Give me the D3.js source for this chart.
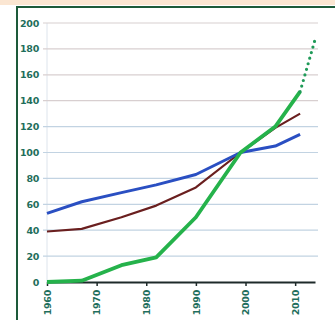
<!DOCTYPE html>
<html><head><meta charset="utf-8">
<script src="https://cdn.jsdelivr.net/npm/d3@7/dist/d3.min.js"></script>
<style>body{margin:0;background:#fff}svg{display:block}</style>
</head><body>
<script>
const years = [1960, 1967, 1975, 1982, 1990, 1999, 2006, 2011];
const blueSeries = [53, 62, 69, 75, 83, 100, 105, 114];
const brownSeries = [39, 41, 50, 59, 73, 100, 119, 130];
const greenSeries = [0, 1, 13, 19, 50, 100, 120, 147];
const projYears = [2011, 2014];
const greenProjection = [147, 187];
const yTicks = [0, 20, 40, 60, 80, 100, 120, 140, 160, 180, 200];
const xTicks = [1960, 1970, 1980, 1990, 2000, 2010];

const W = 335, H = 320;
const svg = d3.select("body").append("svg").attr("width", W).attr("height", H);

// frame
svg.append("rect").attr("x", 0).attr("y", 0).attr("width", W).attr("height", 5).attr("fill", "#fbe6d2");
svg.append("line").attr("x1", 16).attr("x2", W).attr("y1", 7).attr("y2", 7).attr("stroke", "#1d5a3a").attr("stroke-width", 2);
svg.append("line").attr("x1", 17).attr("x2", 17).attr("y1", 6).attr("y2", H).attr("stroke", "#1d5a3a").attr("stroke-width", 2);

const x = d3.scaleLinear().domain([1960, 2014]).range([47, 315]);
const y = d3.scaleLinear().domain([0, 200]).range([282, 23]);

// plot left faint line
svg.append("line").attr("x1", 47).attr("x2", 47).attr("y1", 23).attr("y2", 282).attr("stroke", "#dde4ec").attr("stroke-width", 1);

// gridlines
svg.append("g").selectAll("line").data(yTicks.filter(d => d > 0)).join("line")
  .attr("x1", 43).attr("x2", 318)
  .attr("y1", d => y(d)).attr("y2", d => y(d))
  .attr("stroke", d => d >= 140 ? "#d8cfd0" : "#c2d3e2").attr("stroke-width", 1.2);

// y labels
const yAxis = d3.axisLeft(y).tickValues(yTicks).tickSize(0).tickPadding(0);
const gy = svg.append("g").attr("transform", "translate(39,0)").call(yAxis);
gy.select(".domain").remove();
gy.selectAll("text").attr("fill", "#1f6e5c").attr("font-family", "DejaVu Sans, sans-serif")
  .attr("font-size", 9.5).attr("font-weight", "bold").attr("letter-spacing", -0.3);

// x axis
const xAxis = d3.axisBottom(x).tickValues(xTicks).tickSize(4).tickSizeOuter(0).tickFormat(d3.format("d"));
const gx = svg.append("g").attr("transform", "translate(0,282)").call(xAxis);
gx.select(".domain").attr("stroke", "#1e2a2a").attr("stroke-width", 2);
gx.selectAll(".tick line").attr("stroke", "#1e2a2a").attr("stroke-width", 1.5);
gx.selectAll("text").attr("fill", "#1f6e5c").attr("font-family", "DejaVu Sans, sans-serif")
  .attr("font-size", 9.5).attr("font-weight", "bold").attr("letter-spacing", -0.3)
  .attr("transform", "rotate(-90)").attr("text-anchor", "end")
  .attr("x", -8).attr("y", 0).attr("dy", "0.35em");

const line = d3.line().x(d => x(d[0])).y(d => y(d[1]));
const zip = (a, b) => a.map((v, i) => [v, b[i]]);

svg.append("path").datum(zip(years, brownSeries)).attr("d", line)
  .attr("fill", "none").attr("stroke", "#6a1f1f").attr("stroke-width", 2.2).attr("stroke-linejoin", "round");
svg.append("path").datum(zip(years, blueSeries)).attr("d", line)
  .attr("fill", "none").attr("stroke", "#2a4fc2").attr("stroke-width", 3).attr("stroke-linejoin", "round");
svg.append("path").datum(zip(years, greenSeries)).attr("d", line)
  .attr("fill", "none").attr("stroke", "#25b24b").attr("stroke-width", 3.8).attr("stroke-linejoin", "round");
svg.append("path").datum(zip(projYears, greenProjection)).attr("d", line)
  .attr("fill", "none").attr("stroke", "#1f9a58").attr("stroke-width", 3.2)
  .attr("stroke-linecap", "round").attr("stroke-dasharray", "0 5.8");
</script>
</body></html>
